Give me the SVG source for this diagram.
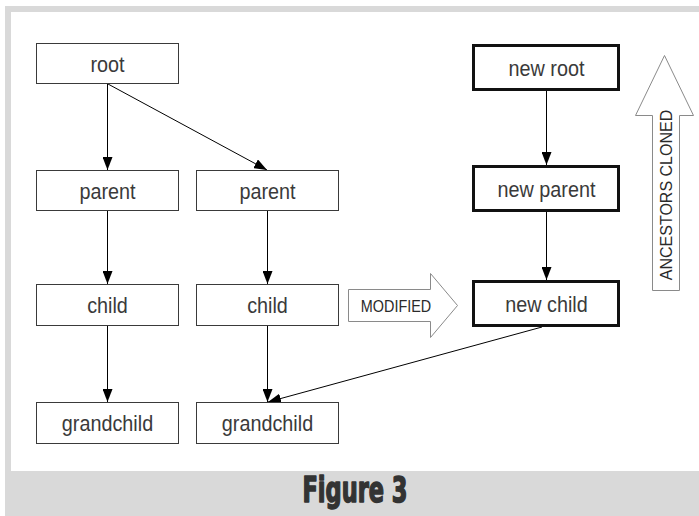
<svg xmlns="http://www.w3.org/2000/svg" width="699" height="516" viewBox="0 0 699 516">
  <defs>
    <marker id="arrow" markerWidth="13" markerHeight="10" refX="13" refY="5" orient="auto" markerUnits="userSpaceOnUse">
      <path d="M0,0 L13,5 L0,10 z" fill="#000"/>
    </marker>
    <style>
      .box { fill: #fff; stroke: #3a3a3a; stroke-width: 1; }
      .bold-box { fill: #fff; stroke: #111; stroke-width: 3; }
      .label { font-family: "Liberation Sans", Arial, sans-serif; font-size: 22.5px; fill: #3a3a3a; text-anchor: middle; }
      .edge { stroke: #000; stroke-width: 1; fill: none; marker-end: url(#arrow); }
      .block { fill: #fff; stroke: #8a8a8a; stroke-width: 1; }
      .block-label { font-family: "Liberation Sans", Arial, sans-serif; font-size: 16px; fill: #2a2a2a; text-anchor: middle; }
      .caption { font-family: "Liberation Sans Narrow", "DejaVu Sans Condensed", "Liberation Sans", sans-serif; font-weight: bold; font-size: 35px; fill: #333; stroke: #333; stroke-width: 1.5; stroke-linejoin: round; text-anchor: middle; }
    </style>
  </defs>

  <!-- frame -->
  <rect x="5" y="6" width="694" height="510" fill="#d9d9d9"/>
  <rect x="11" y="12" width="688" height="459" fill="#fff"/>

  <!-- connectors -->
  <g id="connectors">
    <line class="edge" x1="107.5" y1="84" x2="107.5" y2="170"/>
    <line class="edge" x1="108" y1="84" x2="267" y2="170"/>
    <line class="edge" x1="107.5" y1="211" x2="107.5" y2="284"/>
    <line class="edge" x1="107.5" y1="326" x2="107.5" y2="402"/>
    <line class="edge" x1="267.5" y1="211" x2="267.5" y2="284"/>
    <line class="edge" x1="267.5" y1="326" x2="267.5" y2="402"/>
    <line class="edge" x1="546.5" y1="91" x2="546.5" y2="165"/>
    <line class="edge" x1="546.5" y1="212" x2="546.5" y2="280"/>
    <line class="edge" x1="542" y1="327" x2="268" y2="402"/>
  </g>

  <!-- original tree -->
  <g id="root">
    <rect class="box" x="36.5" y="43.5" width="142" height="40"/>
    <text class="label" transform="translate(107.5,72) scale(0.88,1)">root</text>
  </g>
  <g id="parent-left">
    <rect class="box" x="36.5" y="170.5" width="142" height="40"/>
    <text class="label" transform="translate(107.5,199) scale(0.88,1)">parent</text>
  </g>
  <g id="parent-right">
    <rect class="box" x="196.5" y="170.5" width="142" height="40"/>
    <text class="label" transform="translate(267.5,199) scale(0.88,1)">parent</text>
  </g>
  <g id="child-left">
    <rect class="box" x="36.5" y="284.5" width="142" height="41"/>
    <text class="label" transform="translate(107.5,313) scale(0.88,1)">child</text>
  </g>
  <g id="child-right">
    <rect class="box" x="196.5" y="284.5" width="142" height="41"/>
    <text class="label" transform="translate(267.5,313) scale(0.88,1)">child</text>
  </g>
  <g id="grandchild-left">
    <rect class="box" x="36.5" y="402.5" width="142" height="41"/>
    <text class="label" transform="translate(107.5,431) scale(0.88,1)">grandchild</text>
  </g>
  <g id="grandchild-right">
    <rect class="box" x="196.5" y="402.5" width="142" height="41"/>
    <text class="label" transform="translate(267.5,431) scale(0.88,1)">grandchild</text>
  </g>

  <!-- cloned path -->
  <g id="new-root">
    <rect class="bold-box" x="473.5" y="45.5" width="145" height="44"/>
    <text class="label" transform="translate(546.5,76) scale(0.88,1)">new root</text>
  </g>
  <g id="new-parent">
    <rect class="bold-box" x="473.5" y="166.5" width="145" height="44"/>
    <text class="label" transform="translate(546.5,197) scale(0.88,1)">new parent</text>
  </g>
  <g id="new-child">
    <rect class="bold-box" x="473.5" y="281.5" width="145" height="44"/>
    <text class="label" transform="translate(546.5,312) scale(0.88,1)">new child</text>
  </g>

  <!-- block arrows -->
  <g id="modified">
    <polygon class="block" points="348.5,289.5 430.5,289.5 430.5,273.5 457.5,305.5 430.5,337.5 430.5,321.5 348.5,321.5"/>
    <text class="block-label" transform="translate(396,312) scale(0.9,1)" font-size="16.5">MODIFIED</text>
  </g>
  <g id="ancestors-cloned">
    <polygon class="block" points="664.5,55.5 693.5,115.5 679.5,115.5 679.5,290.5 652.5,290.5 652.5,115.5 635.5,115.5"/>
    <text class="block-label" transform="translate(671.5,195) rotate(-90)">ANCESTORS CLONED</text>
  </g>

  <!-- caption -->
  <text class="caption" x="355" y="502" textLength="105" lengthAdjust="spacingAndGlyphs">Figure 3</text>
</svg>
